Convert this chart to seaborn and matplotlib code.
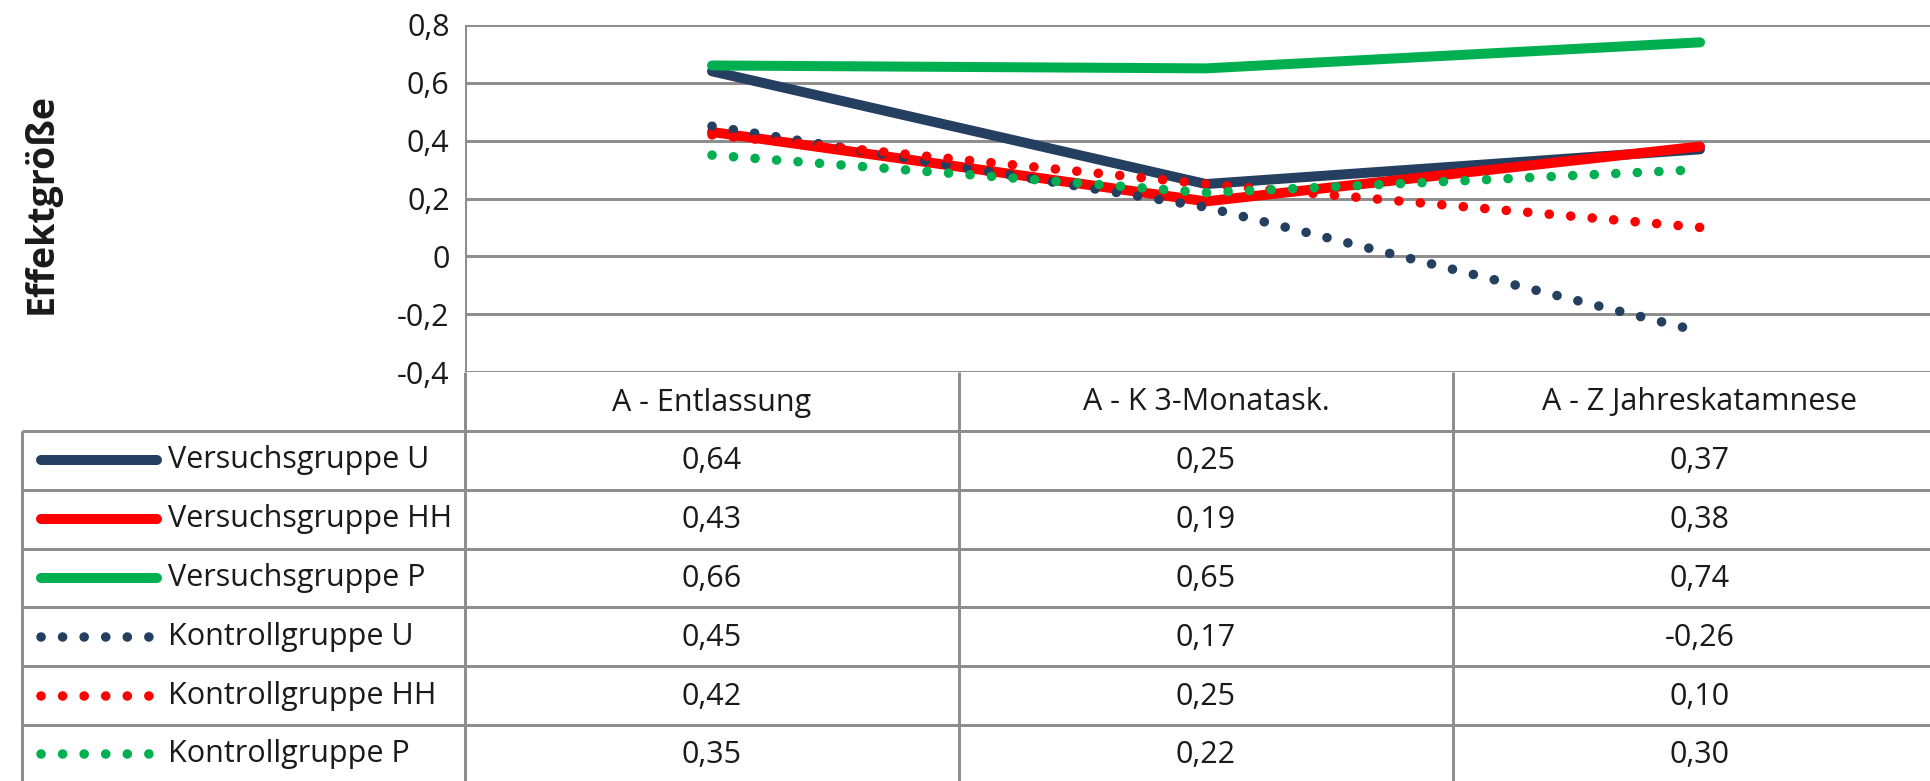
import numpy as np
import pandas as pd
import matplotlib
matplotlib.use("Agg")
import matplotlib.pyplot as plt
import seaborn as sns

# ---------------- data ----------------
categories = ["A - Entlassung", "A - K 3-Monatask.", "A - Z Jahreskatamnese"]
series_names = ["Versuchsgruppe U", "Versuchsgruppe HH", "Versuchsgruppe P",
                "Kontrollgruppe U", "Kontrollgruppe HH", "Kontrollgruppe P"]
vg_u = [0.64, 0.25, 0.37]
vg_hh = [0.43, 0.19, 0.38]
vg_p = [0.66, 0.65, 0.74]
kg_u = [0.45, 0.17, -0.26]
kg_hh = [0.42, 0.25, 0.10]
kg_p = [0.35, 0.22, 0.30]
series_values = [vg_u, vg_hh, vg_p, kg_u, kg_hh, kg_p]
y_ticks = [-0.4, -0.2, 0, 0.2, 0.4, 0.6, 0.8]
y_label = "Effektgröße"

# ---------------- style ----------------
NAVY = "#243F60"
RED = "#FF0000"
GREEN = "#00B050"
GRID = "#8C8C8C"
TXT = "#1a1a1a"
colors = [NAVY, RED, GREEN, NAVY, RED, GREEN]
solid = [True, True, True, False, False, False]

sns.set_theme(style="white")
plt.rcParams["font.family"] = ["Open Sans", "DejaVu Sans"]
FS = 22

W, H = 1931, 781
DPI = 100
fig = plt.figure(figsize=(W / DPI, H / DPI), dpi=DPI)

# layout in pixel units (figure)
ax_left, ax_top, ax_bottom = 465, 25, 372
cat_w = 494
ax = fig.add_axes([ax_left / W, 1 - ax_bottom / H, (W - ax_left) / W, (ax_bottom - ax_top) / H])

df = pd.DataFrame({
    "x": np.tile(np.arange(len(categories)), len(series_names)),
    "value": np.concatenate(series_values),
    "group": np.repeat(series_names, len(categories)),
})

SOLID_LW = 7.2
DOT_LW = 6.9
DOT_PATTERN = (0, (0.01, 2.24))

for name, col, s in zip(series_names, colors, solid):
    sub = df[df["group"] == name]
    if s:
        sns.lineplot(data=sub, x="x", y="value", ax=ax, color=col, linewidth=SOLID_LW,
                     solid_capstyle="round", solid_joinstyle="round", legend=False, zorder=3)
    else:
        sns.lineplot(data=sub, x="x", y="value", ax=ax, color=col, linewidth=DOT_LW,
                     linestyle=DOT_PATTERN, dash_capstyle="round", legend=False, zorder=3)

ax.set_xlim(-0.5, -0.5 + (W - ax_left) / cat_w)
ax.set_ylim(-0.4, 0.8)
ax.set_yticks(y_ticks)
ax.set_yticklabels([("%g" % v).replace(".", ",") for v in y_ticks], fontsize=FS)
ax.tick_params(axis="y", length=0, pad=11, labelcolor=TXT)
ax.set_xticks([])
ax.set_xlabel("")
ax.set_ylabel("")
for sp in ax.spines.values():
    sp.set_visible(False)
ax.axvline(-0.5, color=GRID, lw=2.1, zorder=1)
for v in y_ticks:
    ax.axhline(v, color=GRID, lw=2.1, zorder=1)

fig.text(42 / W, 1 - 203 / H, y_label, rotation=90, fontsize=27, fontweight="bold",
         ha="center", va="center", color=TXT)

# ---------------- data table (pixel overlay) ----------------
tab = fig.add_axes([0, 0, 1, 1], zorder=5)
tab.set_xlim(0, W)
tab.set_ylim(H, 0)
tab.axis("off")
tab.patch.set_alpha(0)

row_h = 58.8
header_top = ax_bottom
header_bot = 431
tab_left = 22
col_x = [ax_left + i * cat_w for i in range(4)]
n_rows = len(series_names)
row_tops = [header_bot + i * row_h for i in range(n_rows + 1)]

glw = 2.1
for cx in col_x[:3]:
    tab.plot([cx, cx], [header_top, H + 5], color=GRID, lw=glw, solid_capstyle="butt")
tab.plot([tab_left, tab_left], [header_bot, H + 5], color=GRID, lw=glw, solid_capstyle="butt")
for ry in row_tops:
    tab.plot([tab_left, W], [ry, ry], color=GRID, lw=glw, solid_capstyle="butt")

for i, c in enumerate(categories):
    tab.text(ax_left + (i + 0.5) * cat_w, (header_top + header_bot) / 2 + 1, c,
             ha="center", va="center", fontsize=FS, color=TXT)

for r, (name, col, s, vals) in enumerate(zip(series_names, colors, solid, series_values)):
    yc = row_tops[r] + row_h / 2
    if s:
        tab.plot([41, 157], [yc, yc], color=col, lw=SOLID_LW, solid_capstyle="round")
    else:
        tab.plot([41, 151], [yc, yc], color=col, lw=DOT_LW, linestyle=(0, (0.01, 2.24)),
                 dash_capstyle="round")
    tab.text(168, yc, name, ha="left", va="center", fontsize=FS, color=TXT)
    for i, v in enumerate(vals):
        tab.text(ax_left + (i + 0.5) * cat_w, yc + 1, ("%.2f" % v).replace(".", ","),
                 ha="center", va="center", fontsize=FS, color=TXT)

fig.savefig("out.png", dpi=DPI, facecolor="white")
